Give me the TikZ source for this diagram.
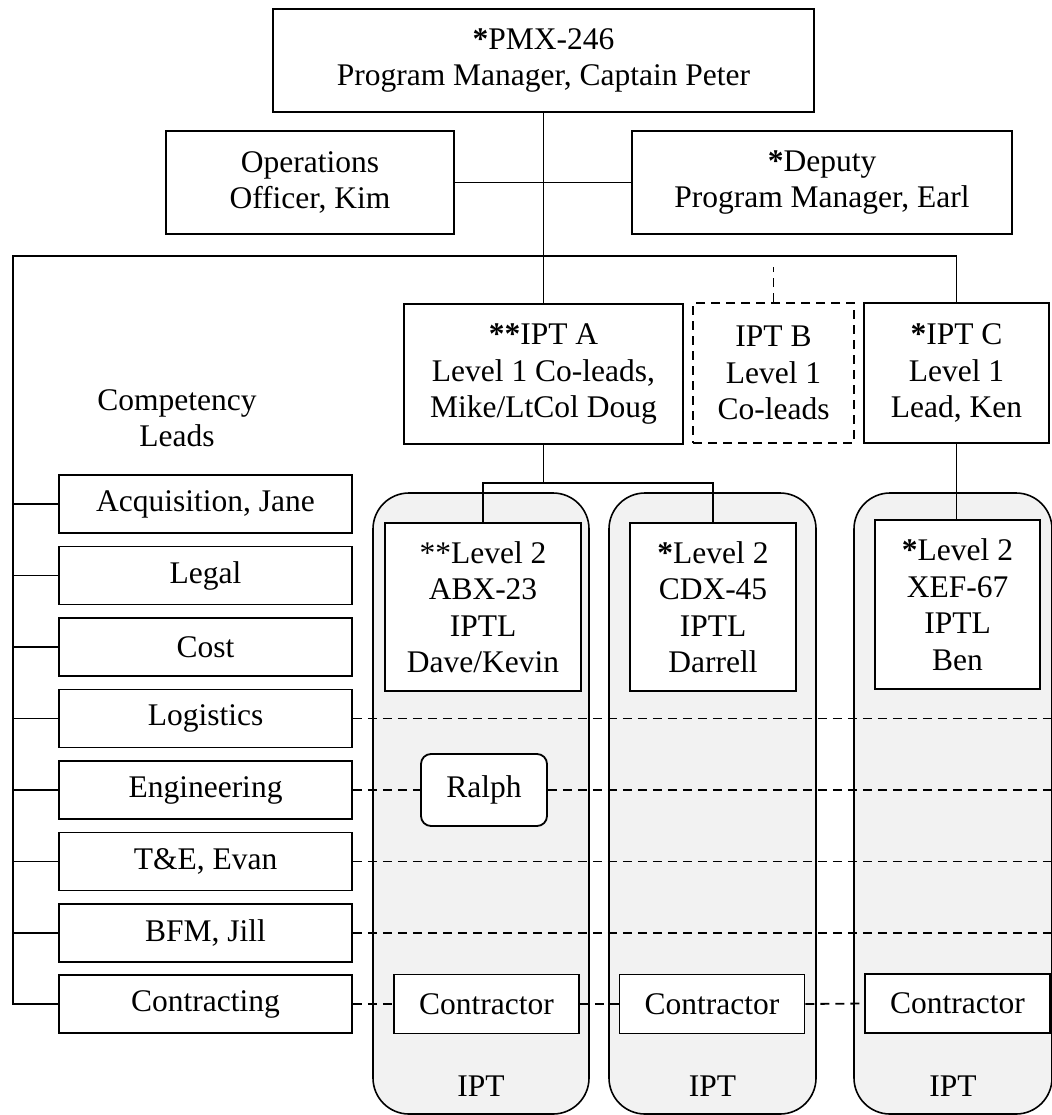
\documentclass[tikz,border=0pt]{standalone}
\usepackage{fontspec}
\setmainfont{Liberation Serif}
\definecolor{lanegray}{HTML}{F2F2F2}
\begin{document}
\begin{tikzpicture}[x=1pt,y=-1pt,
  every node/.style={font=\fontsize{31.5}{36.5}\selectfont, align=center, inner sep=0pt},
  bx/.style={draw, line width=1.8pt, fill=white},
  dbx/.style={bx, dash pattern=on 9pt off 6pt},
  leadbox/.style={bx, minimum width=293pt, minimum height=58pt},
  ctrbox/.style={bx, minimum width=185pt, minimum height=59pt},
  lane/.style={draw, line width=1.6pt, fill=lanegray, rounded corners=36pt, minimum height=621pt},
  link/.style={line width=1.8pt},
  dlink/.style={line width=1.8pt, dash pattern=on 9pt off 6pt},
]
\useasboundingbox (0,0) rectangle (1051,1115);

% IPT lanes (drawn first, everything else sits on top)
\node[lane, minimum width=216pt] (laneA) at (481,803.5) {};
\node[lane, minimum width=207pt] (laneB) at (712.5,803.5) {};
\node[lane, minimum width=198pt] (laneC) at (953,803.5) {};
\node (iptA) at (481,1086) {IPT};
\node (iptB) at (712.5,1086) {IPT};
\node (iptC) at (953,1086) {IPT};

% management
\node[bx, minimum width=541pt, minimum height=103pt] (pm) at (543.5,60.5)
  {\textbf{*}PMX-246\\Program Manager, Captain Peter};
\node[bx, minimum width=288pt, minimum height=103pt] (ops) at (310,182.5)
  {Operations\\Officer, Kim};
\node[bx, minimum width=380pt, minimum height=103pt] (dep) at (822,182.5)
  {\textbf{*}Deputy\\Program Manager, Earl};

% level 1 teams
\node[bx, minimum width=279pt, minimum height=140pt] (ipta) at (543.5,374)
  {\textbf{**}IPT A\\Level 1 Co-leads,\\Mike/LtCol Doug};
\node[dbx, minimum width=161pt, minimum height=140pt] (iptb) at (773.5,373)
  {IPT B\\Level 1\\Co-leads};
\node[bx, minimum width=185pt, minimum height=140pt] (iptc) at (956.5,373)
  {\textbf{*}IPT C\\Level 1\\Lead, Ken};

% level 2 teams
\node[bx, minimum width=196pt, minimum height=168pt] (lv2a) at (483,607)
  {**Level 2\\ABX-23\\IPTL\\Dave/Kevin};
\node[bx, minimum width=166pt, minimum height=168pt] (lv2b) at (713,607)
  {\textbf{*}Level 2\\CDX-45\\IPTL\\Darrell};
\node[bx, minimum width=165pt, minimum height=169pt] (lv2c) at (957.5,604.5)
  {\textbf{*}Level 2\\XEF-67\\IPTL\\Ben};

% competency leads
\node (comp) at (177,418) {Competency\\Leads};
\node[leadbox] (acq)   at (205.5,504)   {Acquisition, Jane};
\node[leadbox] (legal) at (205.5,575.5) {Legal};
\node[leadbox] (cost)  at (205.5,647)   {Cost};
\node[leadbox] (log)   at (205.5,718.5) {Logistics};
\node[leadbox] (eng)   at (205.5,790)   {Engineering};
\node[leadbox] (te)    at (205.5,861.5) {T\&E, Evan};
\node[leadbox] (bfm)   at (205.5,933)   {BFM, Jill};
\node[leadbox] (con)   at (205.5,1004)  {Contracting};

% team members
\node[bx, rounded corners=10pt, minimum width=126pt, minimum height=72pt] (ralph) at (484,790) {Ralph};
\node[ctrbox] (ca) at (486.5,1004) {Contractor};
\node[ctrbox] (cb) at (712,1004)   {Contractor};
\node[ctrbox] (cc) at (957.5,1003.5) {Contractor};

% reference points
\coordinate (J)  at (543.5,256);
\coordinate (L)  at (13,256);
\coordinate (R)  at (1051,0);
\coordinate (jA) at (543.5,483);
\coordinate (bstub) at (773.5,267);

% solid reporting lines
\draw[link] (pm.south) -- (ipta.north);
\draw[link] (ops.east) -- (dep.west);
\draw[link] (J) -- (L) |- (acq.west);
\draw[link] (J) -| (iptc.north);
\draw[dlink] (iptb.north) -- (bstub);
\draw[link] (ipta.south) -- (jA);
\draw[link] (jA) -| (lv2a.north);
\draw[link] (jA) -| (lv2b.north);
\draw[link] (iptc.south) -- (iptc.south |- lv2c.north);

% competency bus
\draw[link] (acq.west -| L) |- (con.west);
\foreach \n in {legal,cost,log,eng,te,bfm}
  \draw[link] (\n.west -| L) -- (\n.west);

% matrix (dashed) lines
\draw[dlink] (log.east) -- (log.east -| R);
\draw[dlink] (eng.east) -- (ralph.west);
\draw[dlink] (ralph.east) -- (ralph.east -| R);
\draw[dlink] (te.east) -- (te.east -| R);
\draw[dlink] (bfm.east) -- (bfm.east -| R);
\draw[dlink] (con.east) -- (ca.west);
\draw[dlink] (ca.east) -- (cb.west);
\draw[dlink] (cb.east) -- (cc.west);
\end{tikzpicture}
\end{document}
